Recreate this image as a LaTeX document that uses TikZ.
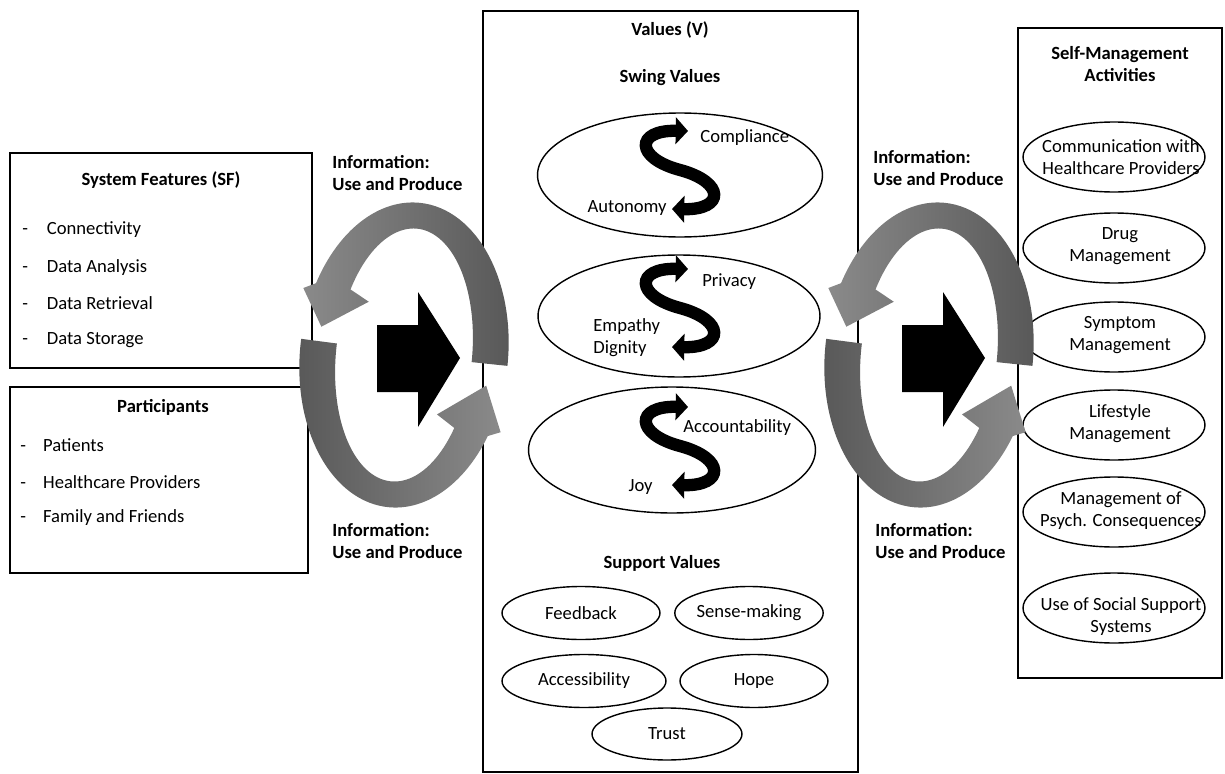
\documentclass[tikz,border=0pt]{standalone}
\usepackage{fontspec}
\setmainfont{Carlito}
\usetikzlibrary{arrows.meta}
\usetikzlibrary{shapes.geometric}
\usetikzlibrary{positioning}

\definecolor{ringlight}{HTML}{8A8A8A}
\definecolor{ringdark}{HTML}{575757}

\tikzset{
  txt/.style={font=\fontsize{10.6}{12.5}\selectfont, inner sep=0pt, align=center},
  ttl/.style={txt, font=\fontsize{10.6}{12.5}\selectfont\bfseries},
  item/.style={txt, anchor=west},
  panel/.style={draw, line width=1pt, inner sep=0pt},
  oval/.style={draw, ellipse, line width=0.8pt, inner sep=0pt},
  activity/.style={oval, minimum width=3.64cm, minimum height=1.4cm},
  swing/.style={line width=7pt, {Triangle[length=7pt,width=15pt]}-{Triangle[length=7pt,width=15pt]}},
  sarrow/.pic={
    \draw[swing] (8,-39) .. controls (-45,-40) and (-45,-12) .. (0,0)
                         .. controls (45,12) and (45,40) .. (-8,39);
  },
  infocycle/.pic={
    \begin{scope}[x=0.02cm, y=0.02cm, rotate=-6]
      % upper ring part, head on the left
      \shade[left color=ringlight, right color=ringdark]
        (0:104 and 153) arc[start angle=0, end angle=156, x radius=104, y radius=153]
        -- (160:114 and 164) -- (172:86 and 140) -- (152:46 and 105) -- (152:68 and 127)
        arc[start angle=152, end angle=0, x radius=68, y radius=127] -- cycle;
      % lower ring part, head on the right
      \shade[left color=ringdark, right color=ringlight]
        (178:104 and 153) arc[start angle=178, end angle=332, x radius=104, y radius=153]
        -- (336:114 and 164) -- (351:86 and 140) -- (328:46 and 105) -- (328:68 and 127)
        arc[start angle=328, end angle=178, x radius=68, y radius=127] -- cycle;
    \end{scope}
    \fill (-27,-30) -- (14,-30) -- (14,-63) -- (56,3) -- (14,72) -- (14,37) -- (-27,37) -- cycle;
  }
}

\begin{document}
\begin{tikzpicture}[x=0.02cm, y=-0.02cm]
  \useasboundingbox (0,0) rectangle (1225,774);

  % frames
  \node[panel, minimum width=6.04cm, minimum height=4.3cm] (sfbox) at (161,260.5) {};
  \node[panel, minimum width=5.96cm, minimum height=3.72cm] (pabox) at (159,480) {};
  \node[panel, minimum width=7.5cm, minimum height=15.22cm] (valbox) at (670.5,391.5) {};
  \node[panel, minimum width=4.08cm, minimum height=13cm] (smbox) at (1120,353) {};

  % system features
  \node[ttl] (sf) at (161,180) {System Features (SF)};
  \node[item] (sf1) at (22,230) {\makebox[14pt][l]{-}Connectivity};
  \node[item] (sf2) at (22,268) {\makebox[14pt][l]{-}Data Analysis};
  \node[item] (sf3) at (22,303) {\makebox[14pt][l]{-}Data Retrieval};
  \node[item] (sf4) at (22,340) {\makebox[14pt][l]{-}Data Storage};

  % participants
  \node[ttl] (pa) at (163,407) {Participants};
  \node[item] (pa1) at (20,445) {\makebox[13pt][l]{-}Patients};
  \node[item] (pa2) at (20,482) {\makebox[13pt][l]{-}Healthcare Providers};
  \node[item] (pa3) at (20,518) {\makebox[13pt][l]{-}Family and Friends};

  % values
  \node[ttl] (val) at (670,30) {Values (V)};
  \node[ttl] (swv) at (670,78) {Swing Values};

  \node[oval, minimum width=5.7cm, minimum height=2.48cm] (sw1) at (680,175) {};
  \node[oval, minimum width=5.64cm, minimum height=2.44cm] (sw2) at (679,316) {};
  \node[oval, minimum width=5.74cm, minimum height=2.52cm] (sw3) at (672,450) {};

  \pic at (680,170) {sarrow};
  \pic at (680,308) {sarrow};
  \pic at (680,446) {sarrow};

  \node[item] (comp) at (700,138) {Compliance};
  \node[txt, anchor=east] (auto) at (667,208) {Autonomy};
  \node[item] (priv) at (702,282) {Privacy};
  \node[item, align=left] (empd) at (593,338) {Empathy\\Dignity};
  \node[item] (acco) at (683,428) {Accountability};
  \node[txt, anchor=east] (joy) at (653,487) {Joy};

  \node[ttl] (supv) at (662,563) {Support Values};
  \node[oval, txt, minimum width=3.16cm, minimum height=1.06cm] (fb) at (581,613) {Feedback};
  \node[oval, txt, minimum width=2.96cm, minimum height=1.06cm] (sm) at (749,613) {Sense-making};
  \node[oval, txt, minimum width=3.28cm, minimum height=1.06cm] (ac) at (584,681) {Accessibility};
  \node[oval, txt, minimum width=2.96cm, minimum height=1.06cm] (ho) at (754,681) {Hope};
  \node[oval, txt, minimum width=3cm, minimum height=1.04cm] (tr) at (667,734) {Trust};

  % self-management activities
  \node[ttl] (sma) at (1120,64) {Self-Management\\Activities};
  \node[activity] (sm1) at (1114,157) {};
  \node[activity] (sm2) at (1114,248) {};
  \node[activity] (sm3) at (1114,337) {};
  \node[activity] (sm4) at (1114,425) {};
  \node[activity] (sm5) at (1114,512) {};
  \node[activity] (sm6) at (1114,608) {};
  \node[txt] (sm1t) at (1121,157) {Communication with\\Healthcare Providers};
  \node[txt] (sm2t) at (1120,246) {Drug\\Management};
  \node[txt] (sm3t) at (1120,335) {Symptom\\Management};
  \node[txt] (sm4t) at (1120,424) {Lifestyle\\Management};
  \node[txt] (sm5t) at (1121,511) {Management of\\Psych. Consequences};
  \node[txt] (sm6t) at (1121,617) {Use of Social Support\\Systems};

  % information cycles
  \pic at (404,355) {infocycle};
  \pic at (929,355) {infocycle};

  \node[ttl, anchor=west, align=left] (inf1) at (332,173) {Information:\\Use and Produce};
  \node[ttl, anchor=west, align=left] (inf2) at (332,541) {Information:\\Use and Produce};
  \node[ttl, anchor=west, align=left] (inf3) at (873,168) {Information:\\Use and Produce};
  \node[ttl, anchor=west, align=left] (inf4) at (875,541) {Information:\\Use and Produce};
\end{tikzpicture}
\end{document}
